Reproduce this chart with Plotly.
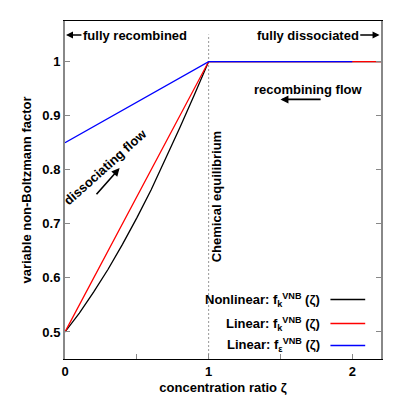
import plotly.graph_objects as go

# concentration ratio and factors
zeta_nl = [0, 0.1, 0.2, 0.3, 0.4, 0.5, 0.6, 0.7, 0.8, 0.9, 1.0, 2.2]
f_nl = [0.5, 0.535, 0.574, 0.616, 0.662, 0.711, 0.763, 0.819, 0.878, 0.938, 1.0, 1.0]

zeta_lin_k = [0, 1.0, 2.2]
f_lin_k = [0.5, 1.0, 1.0]

zeta_lin_e = [0, 1.0, 2.0]
f_lin_e = [0.85, 1.0, 1.0]

x_ticks = [0, 0.5, 1, 1.5, 2]
x_tick_text = ["0", "", "1", "", "2"]
y_ticks = [0.5, 0.6, 0.7, 0.8, 0.9, 1.0]
y_tick_text = ["0.5", "0.6", "0.7", "0.8", "0.9", "1"]

FONT = "Liberation Sans"
SIZE = 13

fig = go.Figure()
fig.add_trace(go.Scatter(x=zeta_nl, y=f_nl, mode="lines",
                         line=dict(color="black", width=1.3), showlegend=False))
fig.add_trace(go.Scatter(x=zeta_lin_k, y=f_lin_k, mode="lines",
                         line=dict(color="red", width=1.3), showlegend=False))
fig.add_trace(go.Scatter(x=zeta_lin_e, y=f_lin_e, mode="lines",
                         line=dict(color="blue", width=1.3), showlegend=False))

# chemical equilibrium marker
fig.add_shape(type="line", x0=1, x1=1, y0=0.45, y1=1.05, xref="x", yref="y",
              line=dict(color="#999999", width=1, dash="2px,2px"), layer="below")

bold = dict(family=FONT, size=SIZE, color="black", weight="bold")

annotations = [
    # top labels with arrows
    dict(x=0.11, y=1.049, text="fully recombined", xanchor="left", showarrow=False),
    dict(x=0.007, y=1.049, ax=0.125, ay=1.049, axref="x", ayref="y", text="",
         showarrow=True, arrowhead=2, arrowsize=1, arrowwidth=1.4, arrowcolor="black"),
    dict(x=2.06, y=1.049, text="fully dissociated", xanchor="right", showarrow=False),
    dict(x=2.19, y=1.049, ax=2.045, ay=1.049, axref="x", ayref="y", text="",
         showarrow=True, arrowhead=2, arrowsize=1, arrowwidth=1.4, arrowcolor="black"),
    dict(x=1.055, y=0.75, text="Chemical equilibrium", textangle=-90, showarrow=False),
    dict(x=1.694, y=0.949, text="recombining flow", showarrow=False),
    dict(x=1.5, y=0.930, ax=1.79, ay=0.930, axref="x", ayref="y", text="",
         showarrow=True, arrowhead=2, arrowsize=1, arrowwidth=1.6, arrowcolor="black"),
    dict(x=0.275, y=0.805, text="dissociating flow", textangle=-42, showarrow=False),
    dict(x=0.38, y=0.803, ax=0.21, ay=0.752, axref="x", ayref="y", text="",
         showarrow=True, arrowhead=2, arrowsize=1, arrowwidth=1.6, arrowcolor="black"),
]

# legend (text left of line sample, like the reference)
legend_items = [
    ("Nonlinear: f<sub>k</sub><sup>VNB</sup> (ζ)", "black", 0.176),
    ("Linear: f<sub>k</sub><sup>VNB</sup> (ζ)", "red", 0.105),
    ("Linear: f<sub>ε</sub><sup>VNB</sup> (ζ)", "blue", 0.04),
]
for label, color, yp in legend_items:
    annotations.append(dict(x=0.812, y=yp, xref="paper", yref="paper", text=label,
                            xanchor="right", yanchor="middle", showarrow=False))
    fig.add_shape(type="line", xref="paper", yref="paper", x0=0.84, x1=0.95,
                  y0=yp, y1=yp, line=dict(color=color, width=1.3))

for a in annotations:
    a.setdefault("font", bold)
fig.update_layout(annotations=annotations)

fig.update_layout(
    width=397, height=397,
    margin=dict(l=57, r=24, t=13, b=44),
    plot_bgcolor="white", paper_bgcolor="white",
    font=dict(family=FONT, size=SIZE, color="black"),
)
fig.update_xaxes(
    range=[0, 2.2], tickvals=x_ticks, ticktext=x_tick_text,
    ticks="inside", ticklen=5, tickcolor="#888888",
    showline=True, linecolor="black", linewidth=1, mirror=True,
    showgrid=False, zeroline=False,
    tickfont=dict(family=FONT, size=SIZE, weight="bold"),
    title=dict(text="concentration ratio ζ", font=dict(family=FONT, size=SIZE, weight="bold"),
               standoff=5),
)
fig.update_yaxes(
    range=[0.45, 1.075], tickvals=y_ticks, ticktext=y_tick_text,
    ticks="inside", ticklen=5, tickcolor="#888888",
    showline=True, linecolor="#888888", linewidth=2, mirror="ticks",
    showgrid=False, zeroline=False,
    tickfont=dict(family=FONT, size=SIZE, weight="bold"),
    title=dict(text="variable non-Boltzmann factor", font=dict(family=FONT, size=SIZE, weight="bold"),
               standoff=8),
)

fig.write_html("out.html")
